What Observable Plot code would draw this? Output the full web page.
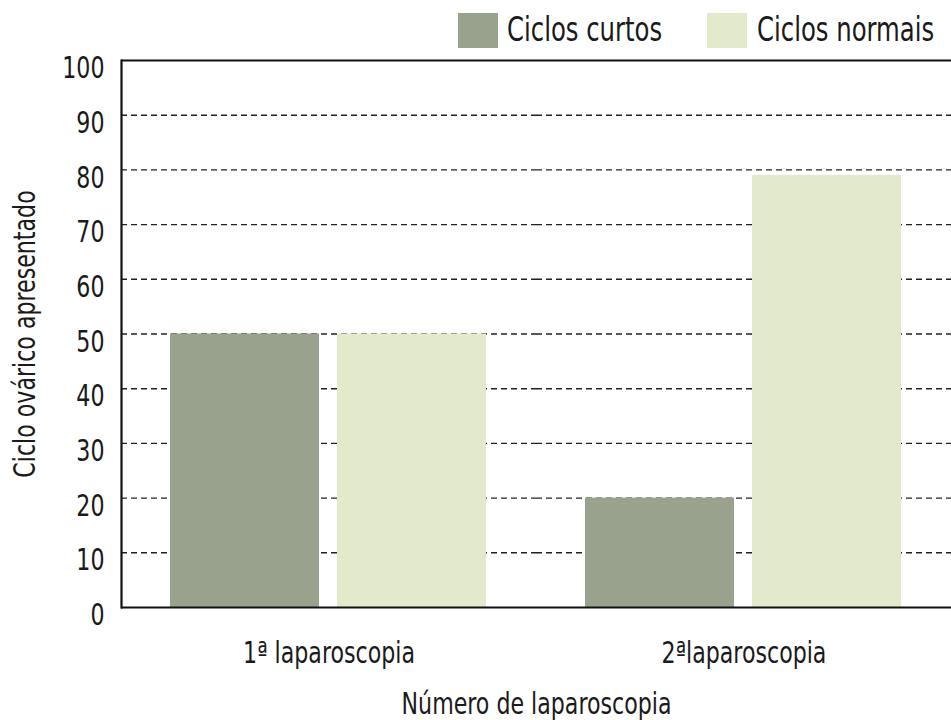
<!DOCTYPE html>
<html><head><meta charset="utf-8">
<script src="https://cdn.jsdelivr.net/npm/d3@7"></script>
<script src="https://cdn.jsdelivr.net/npm/@observablehq/plot@0.6"></script>
<style>
body{margin:0;background:#fff;}
#wrap{position:relative;width:951px;height:720px;font-family:"Liberation Sans Narrow","Arial Narrow","DejaVu Sans Condensed",sans-serif;color:#1a1a1a;}
#legend{position:absolute;top:0;left:0;width:951px;height:60px;}
.sw{position:absolute;top:13px;width:40px;height:35px;}
.lt{position:absolute;top:10px;font-size:33px;line-height:40px;white-space:nowrap;transform:scaleX(0.82);transform-origin:left center;}
</style></head><body><div id="wrap"><div id="legend"></div></div>
<script>
const groups = ["1ª laparoscopia", "2ªlaparoscopia"];
const seriesNames = ["Ciclos curtos", "Ciclos normais"];
const curtos = [50, 20];
const normais = [50, 79];
const yTicks = [0, 10, 20, 30, 40, 50, 60, 70, 80, 90, 100];
const colors = ["#98a28c", "#e2eacb"];

const data = groups.flatMap((g, i) => [
  {g, s: seriesNames[0], v: curtos[i]},
  {g, s: seriesNames[1], v: normais[i]}
]);

const font = '"Liberation Sans Narrow","Arial Narrow","DejaVu Sans Condensed",sans-serif';

const chart = Plot.plot({
  width: 951, height: 720,
  marginTop: 60, marginBottom: 113, marginLeft: 120, marginRight: 0,
  style: {fontFamily: font, fontSize: "30px", background: "white", color: "#1a1a1a", overflow: "visible"},
  fx: {domain: groups, padding: 0, label: null},
  x: {domain: seriesNames, paddingInner: 0.107, paddingOuter: 0.29, axis: null},
  y: {domain: [0, 100], ticks: yTicks},
  color: {domain: seriesNames, range: colors},
  marks: [
    Plot.ruleY(yTicks.slice(1, -1), {stroke: "#222", strokeWidth: 1.4, strokeDasharray: "6,4"}),
    Plot.barY(data, {fx: "g", x: "s", y: "v", fill: "s"}),
    Plot.ruleY([0, 100], {stroke: "#111", strokeWidth: 1.8}),
    Plot.frame({anchor: "left", facet: "super", stroke: "#111", strokeWidth: 2.2}),
    Plot.axisY(yTicks, {tickSize: 0, tickPadding: 17, dy: 8, fontSize: 30,
      label: "Ciclo ovárico apresentado", labelAnchor: "center", labelOffset: 108, labelArrow: false}),
    Plot.axisFx({anchor: "bottom", tickSize: 0, tickPadding: 34, fontSize: 30,
      label: "Número de laparoscopia", labelAnchor: "center", labelOffset: 106, labelArrow: false})
  ]
});
document.getElementById("wrap").appendChild(chart);

// condense all chart texts along their writing direction (reference uses a condensed face)
d3.select(chart).selectAll("text").each(function() {
  const t = this.getAttribute("transform") || "";
  this.setAttribute("transform", (t + " scale(0.82,1)").trim());
});

const legend = document.getElementById("legend");
const legendPos = [[458, 507], [707, 757]];
seriesNames.forEach((s, i) => {
  const sw = document.createElement("div");
  sw.className = "sw"; sw.style.left = legendPos[i][0] + "px"; sw.style.background = colors[i];
  const t = document.createElement("div");
  t.className = "lt"; t.style.left = legendPos[i][1] + "px"; t.textContent = s;
  legend.appendChild(sw); legend.appendChild(t);
});
</script></body></html>
